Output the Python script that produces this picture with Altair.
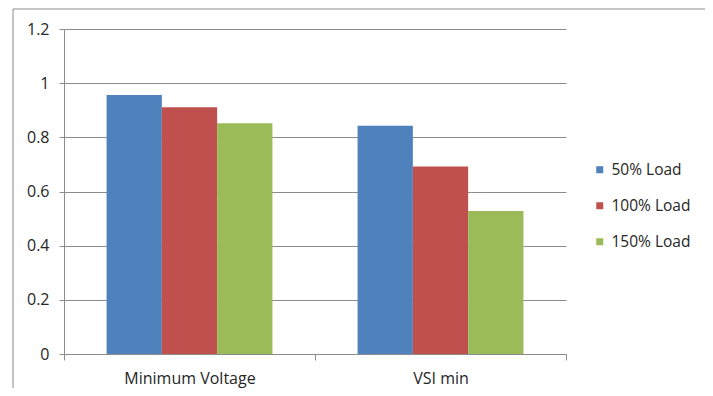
import altair as alt
import pandas as pd

categories = ["Minimum Voltage", "VSI min"]
series = ["50% Load", "100% Load", "150% Load"]
values_50 = [0.956, 0.843]
values_100 = [0.911, 0.692]
values_150 = [0.852, 0.528]
colors = ["#4F81BD", "#C0504D", "#9BBB59"]
y_ticks = [0, 0.2, 0.4, 0.6, 0.8, 1.0, 1.2]

rows = []
for s, vals in zip(series, [values_50, values_100, values_150]):
    for c, v in zip(categories, vals):
        rows.append({"category": c, "series": s, "value": v})
df = pd.DataFrame(rows)

W, H = 502, 325
FONT = "Open Sans"
GRAY = "#8c8c8c"
TXT = "#262626"

bars = alt.Chart(df).mark_bar().encode(
    x=alt.X(
        "category:N",
        sort=categories,
        scale=alt.Scale(paddingInner=0, paddingOuter=0),
        axis=alt.Axis(
            title=None, labelAngle=0, tickBand="extent", tickSize=6,
            domainColor=GRAY, tickColor=GRAY, labelFont=FONT, labelFontSize=16,
            labelColor=TXT, labelPadding=10, grid=False,
        ),
    ),
    xOffset=alt.XOffset(
        "series:N", sort=series,
        scale=alt.Scale(paddingInner=0, paddingOuter=0.77),
    ),
    y=alt.Y(
        "value:Q",
        scale=alt.Scale(domain=[0, 1.2], nice=False),
        axis=alt.Axis(
            title=None, values=y_ticks, format="~g", tickSize=5,
            domainColor=GRAY, tickColor=GRAY, gridColor=GRAY, grid=True,
            labelFont=FONT, labelFontSize=16, labelColor=TXT, labelPadding=10,
        ),
    ),
    color=alt.Color(
        "series:N", sort=series,
        scale=alt.Scale(domain=series, range=colors),
        legend=alt.Legend(
            title=None, orient="none", legendX=528, legendY=133,
            symbolType="square", symbolSize=49, symbolStrokeWidth=0,
            labelFont=FONT, labelFontSize=15.5, labelColor=TXT,
            labelOffset=4, rowPadding=19, padding=0,
        ),
    ),
)

frame = alt.Chart(pd.DataFrame({"a": [0]})).mark_rect(
    filled=False, stroke="#8a8a8a", strokeWidth=1
).encode(
    x=alt.value(-51), x2=alt.value(644), y=alt.value(-20), y2=alt.value(420)
)

chart = alt.layer(frame, bars).properties(
    width=W, height=H,
    padding={"left": 56, "top": 21, "right": 139, "bottom": 34},
    autosize=alt.AutoSizeParams(type="none"),
).configure_view(stroke="transparent")

chart.save("out.html", embed_options={"renderer": "svg", "actions": False})
